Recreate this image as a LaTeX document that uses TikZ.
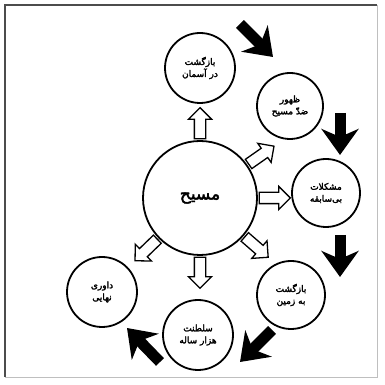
\documentclass[tikz,border=0pt]{standalone}
\usepackage{fontspec}
\newfontfamily\arabicfont[Script=Arabic,AutoFakeBold=2.5]{DejaVu Sans}
\TeXXeTstate=1
\usetikzlibrary{arrows.meta,shapes.arrows}
\newcommand{\fatext}[1]{\beginR#1\endR}

\begin{document}
\begin{tikzpicture}[x=1pt,y=1pt,
		event/.style={circle,draw,line width=1.8pt,minimum size=68pt,inner sep=0pt,align=center,font=\arabicfont\bfseries\fontsize{9}{12}\selectfont},
		hollow/.style={single arrow,draw,line width=1.3pt,fill=white,minimum height=31pt,inner sep=5pt,single arrow head extend=6pt},
		bigarrow/.style={line width=11pt,-{Stealth[length=26pt,width=37pt,inset=8pt]}}]
		\useasboundingbox (0,0) rectangle (384,385);
		\draw[line width=1.2pt,black!70] (5,8) -- (5,380) -- (377,380);
		\draw[line width=0.6pt,black!25] (377,380) -- (377,8) -- (5,8);
		\node[event,minimum size=114pt,font=\arabicfont\bfseries\fontsize{17}{20}\selectfont] (mid) at (200,187) {\fatext{مسیح}};
		\node[event,minimum size=70pt] (sky) at (200,317) {\fatext{بازگشت}\\\fatext{در آسمان}};
		\node[event,minimum size=66pt] (anti) at (290,279) {\fatext{ظهور}\\\fatext{ضدّ مسیح}};
		\node[event] (trouble) at (326,192) {\fatext{مشکلات}\\\fatext{بی‌سابقه}};
		\node[event] (earth) at (291,90) {\fatext{بازگشت}\\\fatext{به زمین}};
		\node[event,minimum size=70pt] (reign) at (198,50) {\fatext{سلطنت}\\\fatext{هزار ساله}};
		\node[event,minimum size=70pt] (judge) at (102,93) {\fatext{داوری}\\\fatext{نهایی}};
		\node[hollow,rotate=90] (h1) at ([shift={(90:72)}]mid.center) {};
		\node[hollow,rotate=35] (h2) at ([shift={(35:72)}]mid.center) {};
		\node[hollow,rotate=0] (h3) at ([shift={(0:72)}]mid.center) {};
		\node[hollow,rotate=-41] (h4) at ([shift={(-41:72)}]mid.center) {};
		\node[hollow,rotate=-90] (h5) at ([shift={(-90:72)}]mid.center) {};
		\node[hollow,rotate=-136] (h6) at ([shift={(-136:72)}]mid.center) {};
		\draw[bigarrow] (240,361) -- (273,328);
		\draw[bigarrow] (340,272) -- (340,230);
		\draw[bigarrow] (340,150) -- (340,108);
		\draw[bigarrow] (272,55) -- (240,23);
		\draw[bigarrow] (160,23) -- (127,57);
	\end{tikzpicture}
\end{document}
